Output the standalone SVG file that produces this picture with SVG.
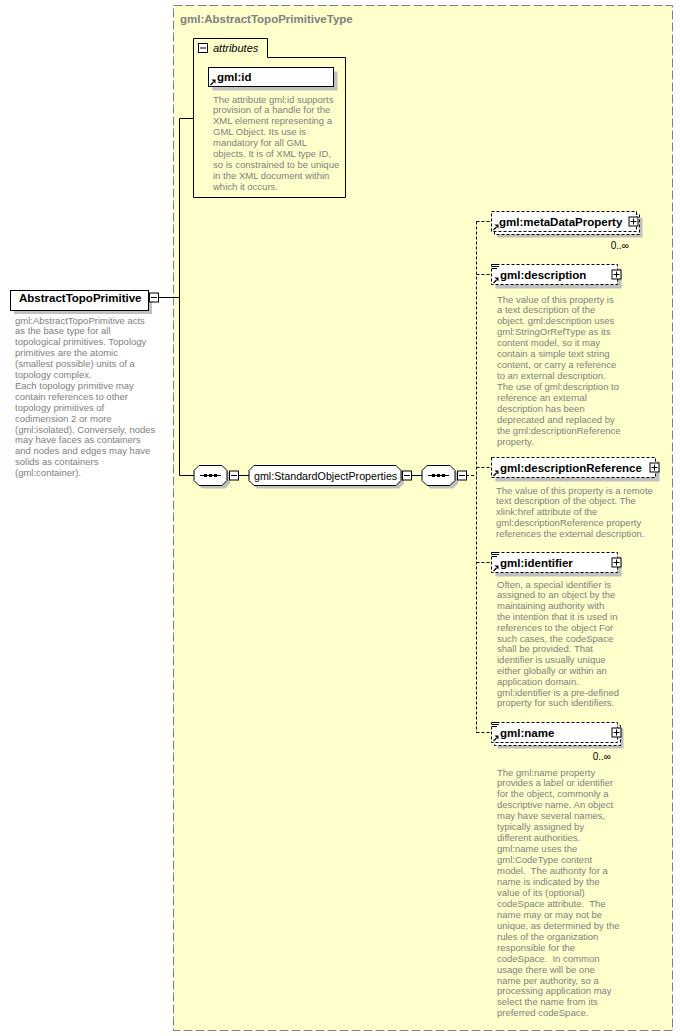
<svg xmlns="http://www.w3.org/2000/svg" width="684" height="1036" viewBox="0 0 684 1036">
<defs>
<style>
.desc{font-family:"Liberation Sans",Arial,sans-serif;font-size:9.5px;fill:#808080;white-space:pre}
.el{font-family:"Liberation Sans",Arial,sans-serif;font-size:11.5px;font-weight:bold;fill:#000}
.title{font-family:"Liberation Sans",Arial,sans-serif;font-size:11.5px;font-weight:bold;fill:#808080}
.grp{font-family:"Liberation Sans",Arial,sans-serif;font-size:10.7px;fill:#000}
.att{font-family:"Liberation Sans",Arial,sans-serif;font-size:11px;font-style:italic;fill:#000}
.occ{font-family:"Liberation Sans",Arial,sans-serif;font-size:10px;fill:#000}
.box{fill:#fff;stroke:#000;stroke-width:1}
.opt{fill:#fff;stroke:#000;stroke-width:1;stroke-dasharray:3,2}
.sh{fill:#c0c0c0}
.ln{stroke:#000;stroke-width:1;fill:none}
.dl{stroke:#000;stroke-width:1;fill:none;stroke-dasharray:3,2}
</style>
<g id="minus"><rect x="0.5" y="0.5" width="9" height="9" class="box"/><path d="M2,5 H8" class="ln"/></g>
<g id="plus"><rect x="0.5" y="0.5" width="9" height="9" class="box"/><path d="M2,5 H8 M5,2 V8" class="ln"/></g>
<g id="ref"><path d="M0.5,6 L3.5,3" stroke="#000" stroke-width="1.3" fill="none"/><path d="M5.5,0.5 L5.5,4.5 L1.5,0.5 Z" fill="#000"/></g>
<g id="doc"><path d="M0,0.5 H7 M0,2.5 H7 M0,4.5 H5" stroke="#000" stroke-width="1" fill="none"/></g>
<path id="oct" d="M5,0.5 H28 L33,5.5 V15.5 L28,20.5 H5 L0,15.5 V5.5 Z"/>
<g id="seqsym"><path d="M6,10.5 H27" class="ln"/><rect x="10" y="9" width="3" height="3" fill="#000"/><rect x="15" y="9" width="3" height="3" fill="#000"/><rect x="20" y="9" width="3" height="3" fill="#000"/></g>
</defs>

<g id="complexType">
<rect x="173.5" y="5.5" width="499" height="1025" fill="#FFFFCC" stroke="#808080" stroke-dasharray="9,3"/>
<text x="180" y="23" class="title">gml:AbstractTopoPrimitiveType</text>
</g>

<g id="connectors">
<path d="M158,297.5 H179.5" class="ln"/>
<path d="M179.5,118.5 V475.5 M179.5,118.5 H193.5 M179.5,475.5 H194" class="ln"/>
<path d="M227,475.5 H229 M238,475.5 H249 M411,475.5 H422" class="ln"/>
<path d="M466,475.5 H476.5 M476.5,221.5 V732.5 M476.5,221.5 H491 M476.5,274.5 H491 M476.5,467.5 H491 M476.5,562.5 H491 M476.5,732.5 H491" class="dl"/>
</g>

<g id="AbstractTopoPrimitive">
<rect x="14" y="294" width="138" height="20" class="sh"/>
<rect x="10.5" y="290.5" width="138" height="20" class="box"/>
<text x="19" y="302" class="el">AbstractTopoPrimitive</text>
<use href="#minus" x="149" y="292.5"/>
<text class="desc" x="15" y="323.5">gml:AbstractTopoPrimitive acts<tspan x="15" dy="10.9">as the base type for all</tspan><tspan x="15" dy="10.9">topological primitives. Topology</tspan><tspan x="15" dy="10.9">primitives are the atomic</tspan><tspan x="15" dy="10.9">(smallest possible) units of a</tspan><tspan x="15" dy="10.9">topology complex.</tspan><tspan x="15" dy="10.9">Each topology primitive may</tspan><tspan x="15" dy="10.9">contain references to other</tspan><tspan x="15" dy="10.9">topology primitives of</tspan><tspan x="15" dy="10.9">codimension 2 or more</tspan><tspan x="15" dy="10.9">(gml:isolated). Conversely, nodes</tspan><tspan x="15" dy="10.9">may have faces as containers</tspan><tspan x="15" dy="10.9">and nodes and edges may have</tspan><tspan x="15" dy="10.9">solids as containers</tspan><tspan x="15" dy="10.9">(gml:container).</tspan></text>
</g>

<g id="attributes">
<path d="M193.5,197.5 V38.5 H267.5 V57.5 H345.5 V197.5 Z" fill="none" stroke="#000"/>
<use href="#minus" x="198" y="43"/>
<text x="213" y="51.5" class="att">attributes</text>
</g>

<g id="gml-id">
<rect x="212.5" y="71.5" width="125" height="19" class="sh"/>
<rect x="208.5" y="67.5" width="125" height="19" class="box"/>
<text x="217" y="81" class="el">gml:id</text>
<use href="#ref" x="210" y="79"/>
<text class="desc" x="213" y="102.5">The attribute gml:id supports<tspan x="213" dy="10.9">provision of a handle for the</tspan><tspan x="213" dy="10.9">XML element representing a</tspan><tspan x="213" dy="10.9">GML Object. Its use is</tspan><tspan x="213" dy="10.9">mandatory for all GML</tspan><tspan x="213" dy="10.9">objects. It is of XML type ID,</tspan><tspan x="213" dy="10.9">so is constrained to be unique</tspan><tspan x="213" dy="10.9">in the XML document within</tspan><tspan x="213" dy="10.9">which it occurs.</tspan></text>
</g>

<g id="sequence1">
<use href="#oct" x="197" y="468" class="sh"/>
<use href="#oct" x="194" y="465" class="box"/>
<use href="#seqsym" x="194" y="465"/>
<use href="#minus" x="229" y="470.5"/>
</g>

<g id="StandardObjectProperties">
<path d="M257,468.5 H399 L404,473.5 V483.5 L399,488.5 H257 L252,483.5 V473.5 Z" class="sh"/>
<path d="M254,465.5 H396 L401,470.5 V480.5 L396,485.5 H254 L249,480.5 V470.5 Z" class="box"/>
<text x="254" y="479.5" class="grp">gml:StandardObjectProperties</text>
<use href="#minus" x="402" y="470.5"/>
</g>

<g id="sequence2">
<use href="#oct" x="425" y="468" class="sh"/>
<use href="#oct" x="422" y="465" class="box"/>
<use href="#seqsym" x="422" y="465"/>
<use href="#minus" x="457" y="470.5"/>
</g>

<g id="metaDataProperty">
<rect x="497.5" y="217.5" width="145" height="20" class="sh"/>
<rect x="494.5" y="214.5" width="145" height="20" class="opt"/>
<rect x="491.5" y="211.5" width="145" height="20" class="opt"/>
<text x="499" y="226" class="el">gml:metaDataProperty</text>
<use href="#ref" x="493" y="224"/>
<use href="#plus" x="628.5" y="216.5"/>
<text x="629" y="249" class="occ" text-anchor="end">0..∞</text>
</g>

<g id="description">
<rect x="495.5" y="268.5" width="126" height="20" class="sh"/>
<rect x="491.5" y="264.5" width="126" height="20" class="opt"/>
<text x="500" y="279" class="el">gml:description</text>
<use href="#ref" x="493" y="277"/>
<use href="#doc" x="492" y="264"/>
<use href="#plus" x="611.5" y="269.5"/>
<text class="desc" x="497" y="302.5">The value of this property is<tspan x="497" dy="10.95">a text description of the</tspan><tspan x="497" dy="10.95">object. gml:description uses</tspan><tspan x="497" dy="10.95">gml:StringOrRefType as its</tspan><tspan x="497" dy="10.95">content model, so it may</tspan><tspan x="497" dy="10.95">contain a simple text string</tspan><tspan x="497" dy="10.95">content, or carry a reference</tspan><tspan x="497" dy="10.95">to an external description.</tspan><tspan x="497" dy="10.95">The use of gml:description to</tspan><tspan x="497" dy="10.95">reference an external</tspan><tspan x="497" dy="10.95">description has been</tspan><tspan x="497" dy="10.95">deprecated and replaced by</tspan><tspan x="497" dy="10.95">the gml:descriptionReference</tspan><tspan x="497" dy="10.95">property.</tspan></text>
</g>

<g id="descriptionReference">
<rect x="495.5" y="461.5" width="164" height="20" class="sh"/>
<rect x="491.5" y="457.5" width="164" height="20" class="opt"/>
<text x="500" y="472" class="el">gml:descriptionReference</text>
<use href="#ref" x="493" y="470"/>
<use href="#plus" x="649.5" y="462.5"/>
<text class="desc" x="496" y="493.5">The value of this property is a remote<tspan x="496" dy="10.9">text description of the object. The</tspan><tspan x="496" dy="10.9">xlink:href attribute of the</tspan><tspan x="496" dy="10.9">gml:descriptionReference property</tspan><tspan x="496" dy="10.9">references the external description.</tspan></text>
</g>

<g id="identifier">
<rect x="495.5" y="556.5" width="126" height="20" class="sh"/>
<rect x="491.5" y="552.5" width="126" height="20" class="opt"/>
<text x="500" y="567" class="el">gml:identifier</text>
<use href="#ref" x="493" y="565"/>
<use href="#doc" x="492" y="552"/>
<use href="#plus" x="611.5" y="557.5"/>
<text class="desc" x="497" y="587.5">Often, a special identifier is<tspan x="497" dy="10.8">assigned to an object by the</tspan><tspan x="497" dy="10.8">maintaining authority with</tspan><tspan x="497" dy="10.8">the intention that it is used in</tspan><tspan x="497" dy="10.8">references to the object For</tspan><tspan x="497" dy="10.8">such cases, the codeSpace</tspan><tspan x="497" dy="10.8">shall be provided. That</tspan><tspan x="497" dy="10.8">identifier is usually unique</tspan><tspan x="497" dy="10.8">either globally or within an</tspan><tspan x="497" dy="10.8">application domain.</tspan><tspan x="497" dy="10.8">gml:identifier is a pre-defined</tspan><tspan x="497" dy="10.8">property for such identifiers.</tspan></text>
</g>

<g id="name">
<rect x="497.5" y="728.5" width="126" height="20" class="sh"/>
<rect x="494.5" y="725.5" width="126" height="20" class="opt"/>
<rect x="491.5" y="722.5" width="126" height="20" class="opt"/>
<text x="500" y="737" class="el">gml:name</text>
<use href="#ref" x="493" y="735"/>
<use href="#doc" x="492" y="722"/>
<use href="#plus" x="611.5" y="727.5"/>
<text x="611" y="760" class="occ" text-anchor="end">0..∞</text>
<text class="desc" x="497" y="775.5">The gml:name property<tspan x="497" dy="10.95">provides a label or identifier</tspan><tspan x="497" dy="10.95">for the object, commonly a</tspan><tspan x="497" dy="10.95">descriptive name. An object</tspan><tspan x="497" dy="10.95">may have several names,</tspan><tspan x="497" dy="10.95">typically assigned by</tspan><tspan x="497" dy="10.95">different authorities.</tspan><tspan x="497" dy="10.95">gml:name uses the</tspan><tspan x="497" dy="10.95">gml:CodeType content</tspan><tspan x="497" dy="10.95">model.  The authority for a</tspan><tspan x="497" dy="10.95">name is indicated by the</tspan><tspan x="497" dy="10.95">value of its (optional)</tspan><tspan x="497" dy="10.95">codeSpace attribute.  The</tspan><tspan x="497" dy="10.95">name may or may not be</tspan><tspan x="497" dy="10.95">unique, as determined by the</tspan><tspan x="497" dy="10.95">rules of the organization</tspan><tspan x="497" dy="10.95">responsible for the</tspan><tspan x="497" dy="10.95">codeSpace.  In common</tspan><tspan x="497" dy="10.95">usage there will be one</tspan><tspan x="497" dy="10.95">name per authority, so a</tspan><tspan x="497" dy="10.95">processing application may</tspan><tspan x="497" dy="10.95">select the name from its</tspan><tspan x="497" dy="10.95">preferred codeSpace.</tspan></text>
</g>
</svg>
